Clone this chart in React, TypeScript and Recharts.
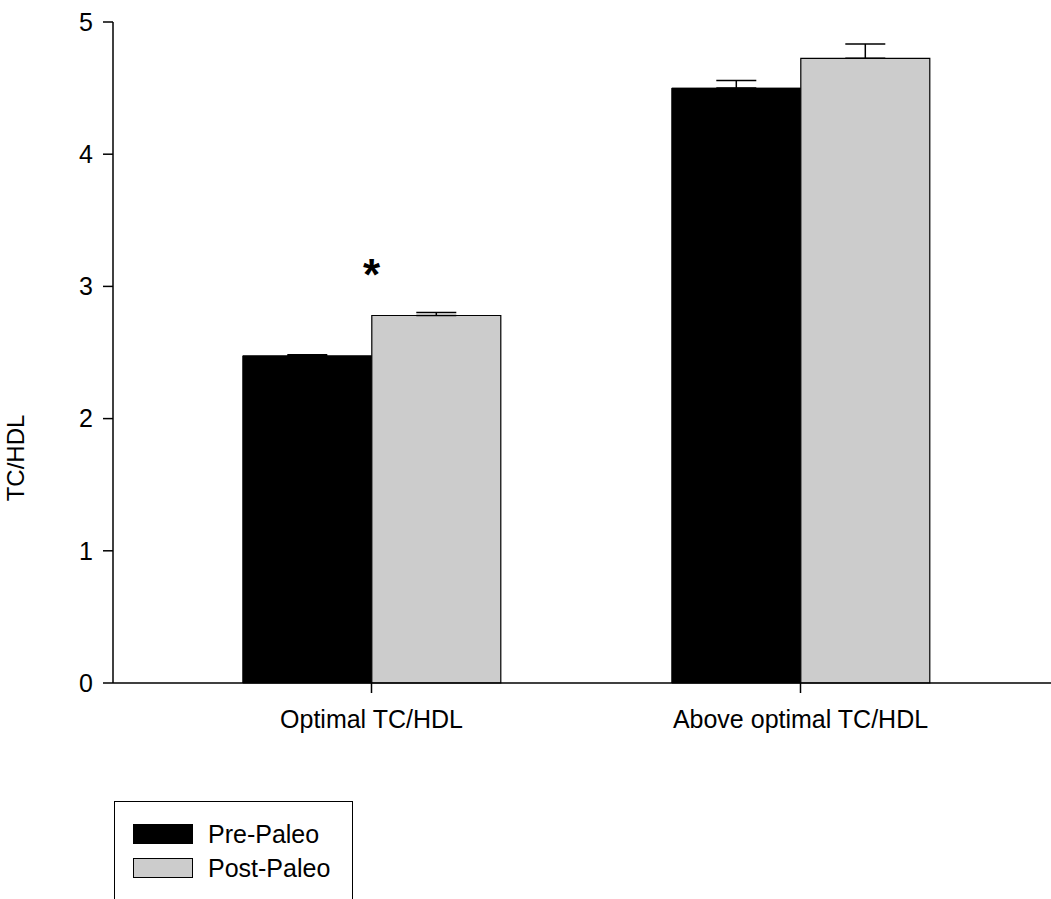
import React from "react";
import {
  BarChart,
  Bar,
  XAxis,
  YAxis,
  ErrorBar,
  ReferenceDot,
} from "recharts";

const categories = ["Optimal TC/HDL", "Above optimal TC/HDL"];
const prePaleo = [2.475, 4.5];
const postPaleo = [2.78, 4.725];
const preErr = [0.008, 0.057];
const postErr = [0.023, 0.109];
const yTicks = [0, 1, 2, 3, 4, 5];
const seriesNames = ["Pre-Paleo", "Post-Paleo"];
const seriesColors = ["#000000", "#cccccc"];
const yAxisTitle = "TC/HDL";
const significance = [{ category: "Optimal TC/HDL", y: 3.15, mark: "*" }];

const data = categories.map((c, i) => ({
  category: c,
  pre: prePaleo[i],
  post: postPaleo[i],
  preErr: [0, preErr[i]],
  postErr: [0, postErr[i]],
}));

const FONT = "'Liberation Sans', Arial, sans-serif";

const YTitle = (props: any) => {
  const vb = props.viewBox || { x: 0, y: 22, width: 113, height: 661 };
  const x = vb.x + 24;
  const y = vb.y + 436;
  return (
    <text
      x={x}
      y={y}
      transform={`rotate(-90, ${x}, ${y})`}
      textAnchor="middle"
      fontSize={24}
      fontFamily={FONT}
      fill="#000"
    >
      {yAxisTitle}
    </text>
  );
};

const StarShape = (props: any) => {
  const { cx, cy, mark } = props;
  return (
    <text
      x={cx}
      y={cy + 23}
      textAnchor="middle"
      fontSize={44}
      fontWeight="bold"
      fontFamily={FONT}
      fill="#000"
    >
      {mark}
    </text>
  );
};

export default function App() {
  return (
    <div
      style={{
        position: "absolute",
        left: 0,
        top: 0,
        width: 1051,
        height: 899,
        overflow: "hidden",
        background: "#fff",
        fontFamily: FONT,
      }}
    >
      <BarChart
        width={1051}
        height={899}
        data={data}
        margin={{ top: 22, right: 0, left: 0, bottom: 156 }}
        barCategoryGap="20%"
        barGap={0}
      >
        <XAxis
          dataKey="category"
          height={60}
          padding={{ left: 44, right: 36 }}
          tickSize={10}
          tickMargin={17}
          axisLine={{ stroke: "#000", strokeWidth: 1.5 }}
          tickLine={{ stroke: "#000", strokeWidth: 1.5 }}
          tick={{ fill: "#000", fontSize: 25, fontFamily: FONT }}
        />
        <YAxis
          width={113}
          domain={[0, 5]}
          ticks={yTicks}
          tickSize={10}
          tickMargin={10}
          axisLine={{ stroke: "#000", strokeWidth: 1.5 }}
          tickLine={{ stroke: "#000", strokeWidth: 1.5 }}
          tick={{ fill: "#000", fontSize: 25, fontFamily: FONT }}
          label={<YTitle />}
        />
        <Bar
          dataKey="pre"
          name={seriesNames[0]}
          fill={seriesColors[0]}
          stroke="#000"
          strokeWidth={1}
          isAnimationActive={false}
        >
          <ErrorBar dataKey="preErr" width={20} stroke="#000" strokeWidth={1.5} direction="y" />
        </Bar>
        <Bar
          dataKey="post"
          name={seriesNames[1]}
          fill={seriesColors[1]}
          stroke="#000"
          strokeWidth={1.2}
          isAnimationActive={false}
        >
          <ErrorBar dataKey="postErr" width={20} stroke="#000" strokeWidth={1.5} direction="y" />
        </Bar>
        {significance.map((s) => (
          <ReferenceDot
            key={s.category}
            x={s.category}
            y={s.y}
            r={0}
            shape={(p: any) => <StarShape {...p} mark={s.mark} />}
          />
        ))}
      </BarChart>
      <div
        style={{
          position: "absolute",
          left: 114,
          top: 801,
          width: 239,
          height: 140,
          border: "1.5px solid #000",
          boxSizing: "border-box",
        }}
      >
        {seriesNames.map((n, i) => (
          <div
            key={n}
            style={{
              position: "absolute",
              left: 18,
              top: 22 + i * 34,
              display: "flex",
              alignItems: "center",
              height: 20,
            }}
          >
            <div
              style={{
                width: 58,
                height: 18,
                background: seriesColors[i],
                border: "1px solid #000",
              }}
            />
            <span
              style={{
                marginLeft: 15,
                fontSize: 25,
                lineHeight: "20px",
                color: "#000",
                whiteSpace: "nowrap",
              }}
            >
              {n}
            </span>
          </div>
        ))}
      </div>
    </div>
  );
}
